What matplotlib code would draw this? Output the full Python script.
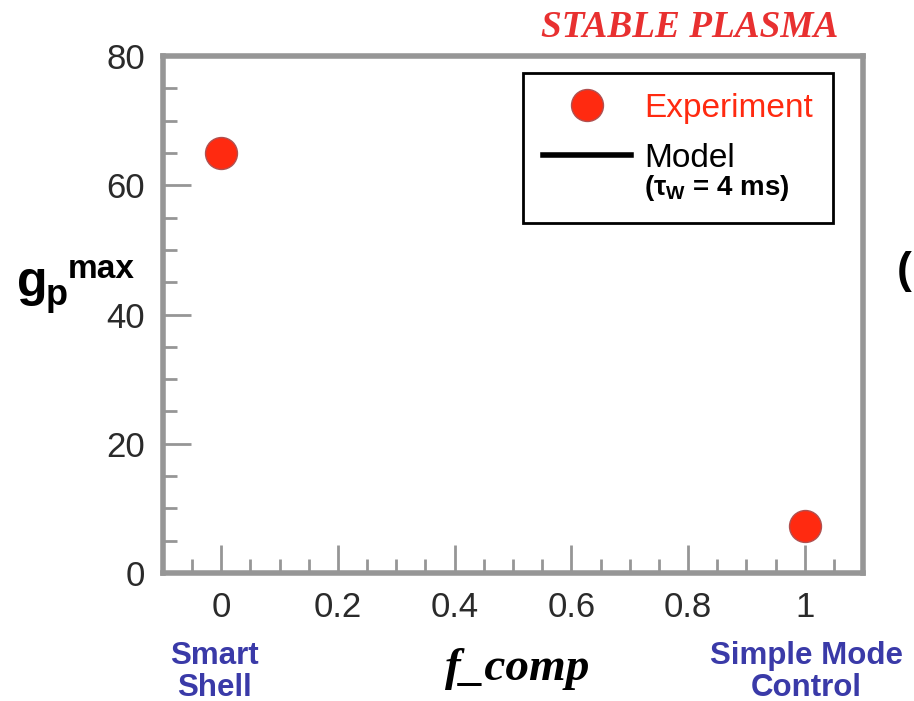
import matplotlib
matplotlib.use("Agg")
import matplotlib.pyplot as plt
from matplotlib.lines import Line2D
from matplotlib.ticker import MultipleLocator
from matplotlib.offsetbox import VPacker

# ---- data ----
f_comp = [0.0, 1.0]
gp_max = [65.0, 7.3]
x_ticks = [0, 0.2, 0.4, 0.6, 0.8, 1]
x_tick_labels = ["0", "0.2", "0.4", "0.6", "0.8", "1"]
y_ticks = [0, 20, 40, 60, 80]
y_tick_labels = ["0", "20", "40", "60", "80"]

plt.rcParams['font.family'] = ['Liberation Sans', 'DejaVu Sans']
plt.rcParams['mathtext.fontset'] = 'custom'
plt.rcParams['mathtext.rm'] = 'Liberation Sans:bold'
plt.rcParams['mathtext.bf'] = 'Liberation Sans:bold'
plt.rcParams['mathtext.it'] = 'Liberation Sans:italic'

W, H = 914, 701
fig = plt.figure(figsize=(W / 100, H / 100), dpi=100)
ax = fig.add_axes([163 / W, 128 / H, 700 / W, 517 / H])

red = '#ff2a10'
frame_gray = '#969696'

ax.plot(f_comp, gp_max, linestyle='none', marker='o', markersize=23,
        markerfacecolor=red, markeredgecolor='#b05050', markeredgewidth=1.0,
        clip_on=False, zorder=3)

ax.set_xlim(-0.1, 1.1)
ax.set_ylim(0, 80)
ax.set_xticks(x_ticks)
ax.set_xticklabels(x_tick_labels)
ax.set_yticks(y_ticks)
ax.set_yticklabels(y_tick_labels)
ax.xaxis.set_minor_locator(MultipleLocator(0.05))
ax.yaxis.set_minor_locator(MultipleLocator(5))
ax.tick_params(which='both', direction='in', color=frame_gray, width=2,
               top=False, right=False, labelsize=25, labelcolor='#2a2a2a')
ax.tick_params(which='major', length=20)
ax.tick_params(which='minor', length=10)
ax.tick_params(axis='x', which='major', pad=13)
ax.tick_params(axis='y', which='major', pad=13)
for sp in ax.spines.values():
    sp.set_color(frame_gray)
    sp.set_linewidth(4)

# legend
h_exp = Line2D([], [], linestyle='none', marker='o', markersize=23,
               markerfacecolor=red, markeredgecolor='#b05050', markeredgewidth=1.0)
h_mod = Line2D([], [], color='black', linewidth=4)
h_blank = Line2D([], [], linestyle='none')
leg = ax.legend([h_exp, h_mod, h_blank],
                ["Experiment", "Model", "(τ$_\\mathregular{W}$ = 4 ms)"],
                loc='upper right', bbox_to_anchor=(0.957, 0.967),
                fontsize=24, frameon=True, fancybox=False, edgecolor='black',
                framealpha=1, handlelength=2.64, handletextpad=0.39,
                borderpad=0.6, labelspacing=0.25, borderaxespad=0)
leg.get_frame().set_linewidth(2)
texts = leg.get_texts()
texts[0].set_color(red)
texts[1].set_color('black')
texts[2].set_fontsize(20)
texts[2].set_fontweight('bold')

# uneven row spacing: wide gap after "Experiment", tight gap before the tau line
try:
    col = leg._legend_handle_box.get_children()[0]
    rows = list(col.get_children())
    inner = VPacker(pad=0, sep=-1.3, children=[rows[1], rows[2]], align='left')
    inner.set_figure(fig)
    col._children = [rows[0], inner]
    col.sep = 13.3
except Exception:
    pass

# title
fig.text(690 / W, 1 - 37 / H, "STABLE PLASMA", color='#e83030',
         fontsize=26.8, fontweight='bold', fontstyle='italic',
         family='Liberation Serif', ha='center', va='baseline')

# y label  g_p^max
fig.text(17 / W, 1 - 296 / H, "g", fontsize=36, fontweight='bold',
         ha='left', va='baseline', color='black')
fig.text(46 / W, 1 - 305 / H, "p", fontsize=26, fontweight='bold',
         ha='left', va='baseline', color='black')
fig.text(68 / W, 1 - 278 / H, "max", fontsize=24, fontweight='bold',
         ha='left', va='baseline', color='black')

# x label
fig.text(517 / W, 1 - 680 / H, "f_comp", fontsize=34, fontstyle='italic',
         fontweight='bold', family='Liberation Serif', ha='center',
         va='baseline', color='black')

blue = '#3a3aa8'
fig.text(214 / W, 1 - 672 / H, "Smart\nShell", fontsize=22.5, fontweight='bold',
         color=blue, ha='center', va='center', linespacing=1.07)
fig.text(806 / W, 1 - 672 / H, "Simple Mode\nControl", fontsize=22.5,
         fontweight='bold', color=blue, ha='center', va='center',
         linespacing=1.07)

# partial text at right edge
fig.text(897 / W, 1 - 272 / H, "(", fontsize=32, fontweight='bold',
         ha='left', va='center', color='black')

fig.savefig("out.png", dpi=100)
